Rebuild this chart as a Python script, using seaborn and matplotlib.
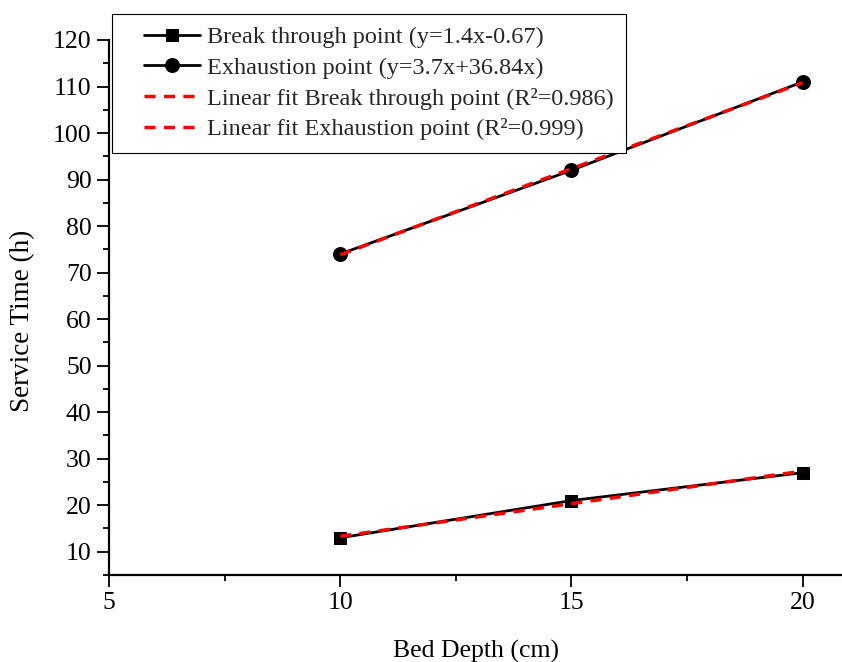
import numpy as np
import pandas as pd

import matplotlib
matplotlib.use("Agg")
import matplotlib.pyplot as plt
from matplotlib.ticker import MultipleLocator
from matplotlib.lines import Line2D
from matplotlib.legend_handler import HandlerLine2D
import seaborn as sns

# values
bed_depth = [10, 15, 20]
break_through = [13, 21, 27]
exhaustion = [74, 92, 111]

label_break = "Break through point (y=1.4x-0.67)"
label_exh = "Exhaustion point (y=3.7x+36.84x)"
label_fit_break = "Linear fit Break through point (R²=0.986)"
label_fit_exh = "Linear fit Exhaustion point (R²=0.999)"

df = pd.DataFrame({"depth": bed_depth, "break": break_through, "exh": exhaustion})

sns.set_theme(style="ticks")
plt.rcParams["font.family"] = ["Liberation Serif", "DejaVu Serif"]

fig = plt.figure(figsize=(8.42, 6.62), dpi=100)
ax = fig.add_axes([0.1295, 0.1314, 0.8705, 0.8082])

sns.lineplot(data=df, x="depth", y="break", ax=ax, color="black", lw=2,
             marker="s", markersize=9, markeredgecolor="black", label=label_break)
sns.lineplot(data=df, x="depth", y="exh", ax=ax, color="black", lw=2,
             marker="o", markersize=10, markeredgecolor="black", label=label_exh)
dash = {"ls": (0, (3.2, 2.4)), "lw": 2.5}
sns.regplot(data=df, x="depth", y="break", ax=ax, scatter=False, ci=None, color="red",
            line_kws=dash, label=label_fit_break)
sns.regplot(data=df, x="depth", y="exh", ax=ax, scatter=False, ci=None, color="red",
            line_kws=dash, label=label_fit_exh)

ax.set_xlim(5, 20.85)
ax.set_ylim(5, 120)
ax.xaxis.set_major_locator(MultipleLocator(5))
ax.xaxis.set_minor_locator(MultipleLocator(2.5))
ax.yaxis.set_minor_locator(MultipleLocator(5))
ax.set_yticks(np.arange(10, 121, 10))

for s in ["top", "right"]:
    ax.spines[s].set_visible(False)
for s in ["left", "bottom"]:
    ax.spines[s].set_linewidth(1.6)
    ax.spines[s].set_color("black")

ax.tick_params(which="major", direction="out", length=8.5, width=1.3, labelsize=18.5,
               colors="black", pad=4)
ax.tick_params(which="minor", direction="out", length=4.5, width=1.3, colors="black")

ax.set_xlabel("Bed Depth (cm)", fontsize=18.5, color="black")
ax.set_ylabel("Service Time (h)", fontsize=19.5, color="black")
ax.xaxis.set_label_coords(0.5, -0.122)
ax.yaxis.set_label_coords(-0.101, 0.475)

handles, labels = ax.get_legend_handles_labels()
leg = ax.legend(handles, labels, loc="upper left", bbox_to_anchor=(0.133, 0.979),
                bbox_transform=fig.transFigure, borderaxespad=0, fontsize=17.5,
                frameon=True, fancybox=False, framealpha=1, edgecolor="black",
                handlelength=3.13, handletextpad=0.29, labelspacing=0.36,
                borderpad=0.5, handler_map={Line2D: HandlerLine2D(xpad=0.82)})
leg.get_frame().set_linewidth(0.8)

fig.savefig("out.png", dpi=100)
plt.close(fig)
